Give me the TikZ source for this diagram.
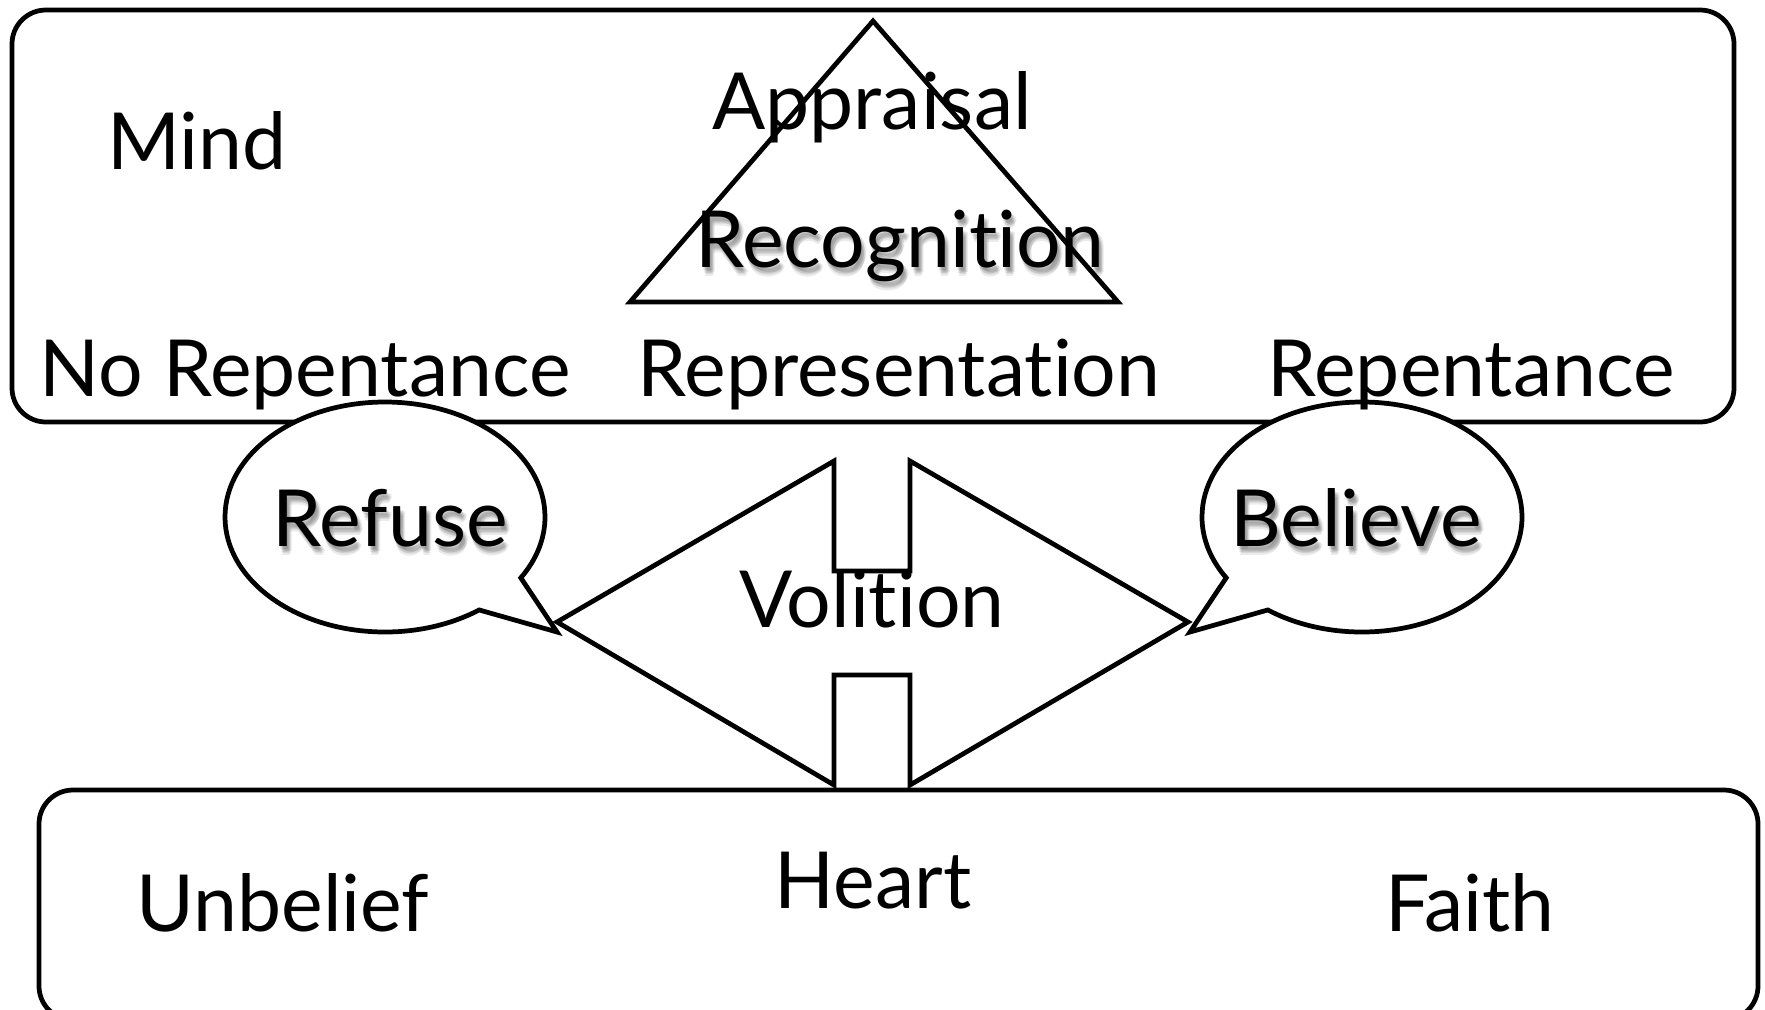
\documentclass[tikz,border=0pt]{standalone}
\usepackage{fontspec}
\setmainfont{Lato}[Ligatures=NoCommon]
\usetikzlibrary{shapes.callouts}

\begin{document}
\begin{tikzpicture}[x=0.1mm, y=-0.1mm, line width=1.35pt,
    lbl/.style={font=\fontsize{22.4}{26}\selectfont, anchor=base, inner sep=0pt},
    shade/.style={lbl, text=black, text opacity=0.08},
    bubble/.style={ellipse callout, draw, fill=white, minimum width=32mm,
      minimum height=23mm, callout pointer arc=22, inner sep=0pt}]
    \useasboundingbox (0,0) rectangle (1765,1009);
    \clip (0,0) rectangle (1765,1009);

    % Mind and Heart boxes
    \draw[rounded corners=3.4mm] (12,10) rectangle (1734,422);
    \draw[rounded corners=3.4mm] (39,790) rectangle (1758,1020);

    % Triangle of the mind
    \draw (873,21) -- (1118,302) -- (630,302) -- cycle;

    % Volition shape
    \draw (557,622) -- (834,461) -- (834,571) -- (910,571) -- (910,461)
      -- (1188,622) -- (910,785) -- (910,675) -- (834,675) -- (834,785) -- cycle;

    % Speech bubbles
    \node[bubble, callout absolute pointer={(557,632)}] (refuse) at (385,517) {};
    \node[bubble, callout absolute pointer={(1190,632)}] (believe) at (1362,517) {};

    % Soft shadows
    \foreach \dx/\dy [count=\i] in {1/3, 3/4, 5/5, 2/6, 4/7, 3/9} {
        \node[shade] (recshade\i) at (900+\dx,267+\dy) {Recognition};
        \node[shade] (refshade\i) at (390+\dx,546+\dy) {Refuse};
        \node[shade] (belshade\i) at (1356+\dx,546+\dy) {Believe};
    }

    % Labels
    \node[lbl] (mind) at (197,169) {Mind};
    \node[lbl] (appraisal) at (872,129) {Appraisal};
    \node[lbl] (recognition) at (900,267) {Recognition};
    \node[lbl] (norep) at (305,396) {No Repentance};
    \node[lbl] (represent) at (899,396) {Representation};
    \node[lbl] (repent) at (1471,396) {Repentance};
    \node[lbl] (refusetxt) at (390,546) {Refuse};
    \node[lbl] (believetxt) at (1356,546) {Believe};
    \node[lbl] (volition) at (872,627) {Volition};
    \node[lbl] (heart) at (873,908) {Heart};
    \node[lbl] (unbelief) at (283,931) {Unbelief};
    \node[lbl] (faith) at (1470,931) {Faith};
\end{tikzpicture}
\end{document}
